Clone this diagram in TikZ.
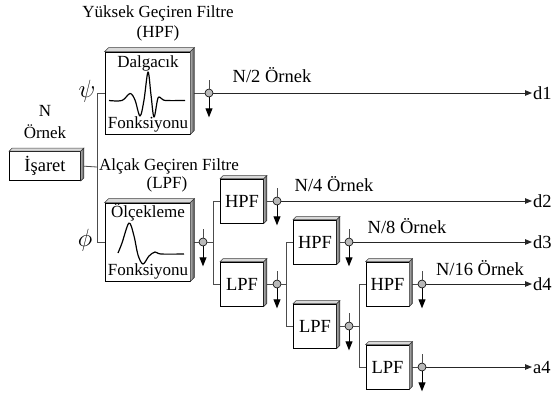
\documentclass[tikz,border=0pt]{standalone}
\usepackage{fontspec}
\setmainfont{Liberation Serif}
\usetikzlibrary{arrows.meta,calc}
\newcommand\fbig{\fontsize{17}{19}\selectfont}
\newcommand\fsml{\fontsize{18.5}{20}\selectfont}
\newcommand\fgrk{\fontsize{23}{25}\selectfont}
\newcommand\tdfaces[2]{%
  \filldraw[fill=gray!30, draw=black!75, line width=0.5pt] (#1.north west) -- ++(#2,#2) -- ($(#1.north east)+(#2,#2)$) -- (#1.north east) -- cycle;
  \shadedraw[left color=gray!60, right color=black!75, draw=black!80, line width=0.5pt] (#1.north east) -- ++(#2,#2) -- ($(#1.south east)+(#2,#2)$) -- (#1.south east) -- cycle;
}
\tikzset{
  filt/.style={draw=black, fill=white, line width=0.8pt, inner sep=0pt, font=\fsml},
  bigfilt/.style={draw=black, fill=white, line width=0.8pt, inner sep=0pt, minimum width=85pt},
  small/.style={filt, minimum width=43pt, minimum height=44pt},
  tap/.style={circle, draw=black, fill=gray!55, minimum size=8pt, inner sep=0pt, line width=0.6pt},
  conn/.style={draw=black!70, line width=0.8pt},
  dn/.style={draw=black, line width=0.9pt, -{Triangle[length=9pt,width=7pt]}},
  outarr/.style={draw=black!85, line width=0.9pt, -{Triangle[length=7pt,width=5.5pt]}},
  lbl/.style={font=\fbig, inner sep=0pt},
  grk/.style={font=\fgrk, inner sep=0pt},
  nlbl/.style={font=\fsml, inner sep=0pt},
  outlbl/.style={font=\fsml, inner sep=1pt, anchor=west},
  wave/.style={draw=black, line width=1.2pt, line join=round}
}
\begin{document}
\begin{tikzpicture}[x=1pt,y=-1pt]
\useasboundingbox[fill=white] (0,0) rectangle (553,397);

% boxes
\node[filt, minimum width=71pt, minimum height=29pt] (isaret) at (45,166) {İşaret};
\node[bigfilt, minimum height=82pt] (hpfA) at (147.5,93) {};
\node[bigfilt, minimum height=78pt] (lpfA) at (147.5,242) {};
\node[small] (hpf1) at (242,201) {HPF};
\node[small] (lpf1) at (242,284) {LPF};
\node[small] (hpf2) at (315,242) {HPF};
\node[small] (lpf2) at (315,326) {LPF};
\node[small] (hpf3) at (387.5,284) {HPF};
\node[small] (lpf3) at (387.5,367) {LPF};

% taps
\node[tap] (cA) at (209,93) {};
\node[tap] (cB) at (203,242) {};
\node[tap] (c1) at (277,201) {};
\node[tap] (c2) at (277,284) {};
\node[tap] (c3) at (349,242) {};
\node[tap] (c4) at (349,326) {};
\node[tap] (c5) at (422,284) {};
\node[tap] (c6) at (422,367) {};

% branch points
\coordinate (b0) at (97,167);
\coordinate (bB) at (213,242);
\coordinate (b2) at (286,284);
\coordinate (b4) at (359,326);

% output labels
\node[outlbl] (d1) at (532,93) {d1};
\node[outlbl] (d2) at (532,201) {d2};
\node[outlbl] (d3) at (532,242) {d3};
\node[outlbl] (d4) at (532,284) {d4};
\node[outlbl] (a4) at (532,367) {a4};

% connectors
\draw[conn] (isaret.east) -- (b0);
\draw[conn] (b0) |- (hpfA.west);
\draw[conn] (b0) |- (lpfA.west);
\draw[conn] (hpfA.east) -- (cA.west);
\draw[conn] (lpfA.east) -- (cB.west);
\draw[conn] (cB.east) -- (bB);
\draw[conn] (bB) |- (hpf1.west);
\draw[conn] (bB) |- (lpf1.west);
\draw[conn] (hpf1.east) -- (c1.west);
\draw[conn] (lpf1.east) -- (c2.west);
\draw[conn] (c2.east) -- (b2);
\draw[conn] (b2) |- (hpf2.west);
\draw[conn] (b2) |- (lpf2.west);
\draw[conn] (hpf2.east) -- (c3.west);
\draw[conn] (lpf2.east) -- (c4.west);
\draw[conn] (c4.east) -- (b4);
\draw[conn] (b4) |- (hpf3.west);
\draw[conn] (b4) |- (lpf3.west);
\draw[conn] (hpf3.east) -- (c5.west);
\draw[conn] (lpf3.east) -- (c6.west);

\draw[outarr] (cA.east) -- (d1.west);
\draw[outarr] (c1.east) -- (d2.west);
\draw[outarr] (c3.east) -- (d3.west);
\draw[outarr] (c5.east) -- (d4.west);
\draw[outarr] (c6.east) -- (a4.west);

\foreach \c in {cA,cB,c1,c2,c3,c4,c5,c6}{
  \draw[conn] (\c.north) -- ++(0,9pt);
  \draw[dn] (\c.south) -- ++(0,-20pt);
}

% 3D faces
\tdfaces{isaret}{3pt}
\tdfaces{hpfA}{4pt}
\tdfaces{lpfA}{4pt}
\foreach \b in {hpf1,lpf1,hpf2,lpf2,hpf3,lpf3}{\tdfaces{\b}{3pt}}

% texts in big boxes
\node[lbl] (dalg) at (148,63) {Dalgacık};
\node[lbl] (fonk1) at (148,124) {Fonksiyonu};
\node[lbl] (olc) at (148,212) {Ölçekleme};
\node[lbl] (fonk2) at (148,271) {Fonksiyonu};

% wavelet
\draw[wave] plot[smooth, tension=0.55] coordinates {(109,100.5) (122,100.5) (130,93.5) (135,100) (140,116) (144,100) (148,72) (151,95) (154,117) (158,98) (162,99) (166,100.5) (185,100.5)};
% scaling function
\draw[wave] plot[smooth, tension=0.55] coordinates {(118,253) (122,243) (129,223) (134,236) (138,255) (143,264) (149,256) (155,252) (161,254) (184,254)};

% labels
\node[lbl] (t1) at (158,13) {Yüksek Geçiren Filtre};
\node[lbl] (t2) at (158,33) {(HPF)};
\node[lbl] (nn) at (45,111) {N};
\node[lbl] (no) at (45,132) {Örnek};
\node[lbl, anchor=west] (alc) at (99,166) {Alçak Geçiren Filtre};
\node[lbl] (lpfl) at (167,184) {(LPF)};
\node[grk] (psi) at (87,91) {$\psi$};
\node[grk] (phi) at (85,240) {$\phi$};
\node[nlbl] (n2) at (272,75) {N/2 Örnek};
\node[nlbl] (n4) at (334,184) {N/4 Örnek};
\node[nlbl] (n8) at (407,226) {N/8 Örnek};
\node[nlbl] (n16) at (480,268) {N/16 Örnek};
\end{tikzpicture}
\end{document}
